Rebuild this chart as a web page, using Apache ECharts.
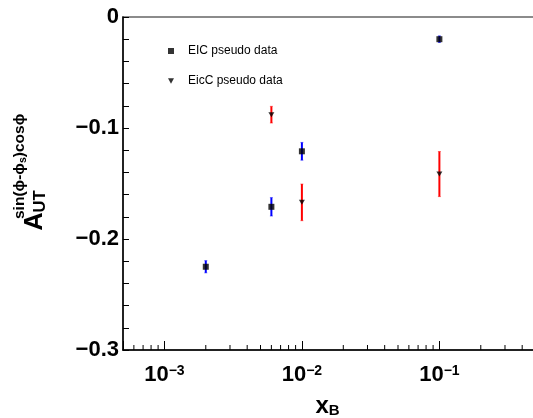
<!DOCTYPE html>
<html><head><meta charset="utf-8">
<script src="https://cdn.jsdelivr.net/npm/echarts@6/dist/echarts.min.js"></script>
<style>html,body{margin:0;padding:0;background:#fff}#c{width:533px;height:418px}</style>
</head><body><div id="c"></div>
<script>
// ---- data ----
const eicX = [0.002, 0.006, 0.01, 0.1];
const eicY = [-0.225, -0.171, -0.121, -0.020];
const eicErr = [0.0055, 0.0083, 0.008, 0.003];

const eiccX = [0.006, 0.01, 0.1];
const eiccY = [-0.088, -0.167, -0.1415];
const eiccErr = [0.0075, 0.0165, 0.0203];

const xMinorTicks = [0.0006, 0.0007, 0.0008, 0.0009,
  0.002, 0.003, 0.004, 0.005, 0.006, 0.007, 0.008, 0.009,
  0.02, 0.03, 0.04, 0.05, 0.06, 0.07, 0.08, 0.09,
  0.2, 0.3, 0.4];
const yTickLabels = ['\u22120.3', '\u22120.2', '\u22120.1', '0'];
const seriesNames = ['EIC pseudo data', 'EicC pseudo data'];

const FONT = '"Liberation Sans", Arial, Helvetica, sans-serif';
const TRI = 'path://M0,0L10,0L5,9Z';

function errItem(color) {
  return function (params, api) {
    const x = api.value(0), y = api.value(1), e = api.value(2);
    const p1 = api.coord([x, y + e]);
    const p2 = api.coord([x, y - e]);
    return {
      type: 'group',
      children: [
        { type: 'line', shape: { x1: p1[0], y1: p1[1], x2: p2[0], y2: p2[1] },
          style: { stroke: color, lineWidth: 2 } },
        { type: 'line', shape: { x1: p1[0] - 1.5, y1: p1[1], x2: p1[0] + 1.5, y2: p1[1] },
          style: { stroke: color, lineWidth: 1, opacity: 0.5 } },
        { type: 'line', shape: { x1: p2[0] - 1.5, y1: p2[1], x2: p2[0] + 1.5, y2: p2[1] },
          style: { stroke: color, lineWidth: 1, opacity: 0.5 } }
      ]
    };
  };
}

const chart = echarts.init(document.getElementById('c'), null, { renderer: 'canvas' });
chart.setOption({
  animation: false,
  backgroundColor: '#fff',
  grid: { left: 123, top: 17, width: 412.5, height: 333, containLabel: false, outerBoundsMode: 'none',
          show: true, borderColor: '#666', borderWidth: 1.5, backgroundColor: 'transparent' },
  legend: {
    data: [{ name: seriesNames[0], icon: 'rect' }, { name: seriesNames[1], icon: TRI }],
    orient: 'vertical', left: 168, top: 44, padding: 0,
    itemWidth: 6, itemHeight: 6, itemGap: 16,
    textStyle: { fontFamily: FONT, fontSize: 12, color: '#000', lineHeight: 14, padding: [0, 0, 0, 9] }
  },
  xAxis: {
    type: 'log', logBase: 10, min: 0.0005, max: 0.5,
    axisLine: { onZero: false, lineStyle: { color: '#000', width: 1.5 } },
    axisTick: { show: true, inside: true, length: 9, lineStyle: { color: '#000', width: 1 } },
    splitLine: { show: false },
    axisLabel: {
      margin: 14,
      formatter: function (v) {
        const l = Math.log10(v), e = Math.round(l);
        if (Math.abs(l - e) > 1e-6) return '';
        return '{b|10}{s|' + (e < 0 ? '\u2212' + (-e) : e) + '}';
      },
      rich: {
        b: { fontFamily: FONT, fontWeight: 'bold', fontSize: 22, lineHeight: 22, color: '#000', verticalAlign: 'bottom' },
        s: { fontFamily: FONT, fontWeight: 'bold', fontSize: 14, lineHeight: 14, color: '#000', verticalAlign: 'top', padding: [0, 0, 11, 0] }
      }
    }
  },
  yAxis: {
    type: 'value', min: -0.3, max: 0, interval: 0.1,
    axisLine: { onZero: false, lineStyle: { color: '#000', width: 1.5 } },
    axisTick: { inside: true, length: 6, lineStyle: { color: '#000' } },
    minorTick: { show: true, splitNumber: 5, length: 6, lineStyle: { color: '#000' } },
    splitLine: { show: false },
    axisLabel: {
      margin: 4, color: '#000', fontFamily: FONT, fontWeight: 'bold', fontSize: 22,
      formatter: function (v) {
        const i = Math.round((v + 0.3) / 0.1);
        return yTickLabels[i];
      }
    }
  },
  series: [
    { type: 'custom', name: 'eicErr', renderItem: errItem('#0000ff'), z: 1, silent: true,
      encode: { x: 0, y: 1 }, data: eicX.map((x, i) => [x, eicY[i], eicErr[i]]) },
    { type: 'custom', name: 'eiccErr', renderItem: errItem('#ff0000'), z: 1, silent: true,
      encode: { x: 0, y: 1 }, data: eiccX.map((x, i) => [x, eiccY[i], eiccErr[i]]) },
    { type: 'scatter', name: seriesNames[0], symbol: 'rect', symbolSize: 6, z: 3,
      itemStyle: { color: '#000' }, data: eicX.map((x, i) => [x, eicY[i]]) },
    { type: 'scatter', name: seriesNames[1], symbol: TRI, symbolSize: [6, 5], z: 3,
      itemStyle: { color: '#000' }, data: eiccX.map((x, i) => [x, eiccY[i]]) },
    { type: 'custom', name: 'minorTicks', silent: true, z: 2, encode: { x: 0, y: 1 },
      clip: false,
      renderItem: function (params, api) {
        const p = api.coord([api.value(0), api.value(1)]);
        return { type: 'line', shape: { x1: p[0], y1: p[1], x2: p[0], y2: p[1] - 5 },
          style: { stroke: '#000', lineWidth: 1 } };
      },
      data: xMinorTicks.map(v => [v, -0.3]) }
  ],
  graphic: [
    { type: 'text', x: 35, y: 230.5, rotation: Math.PI / 2,
      style: { text: 'A', font: 'bold 25px ' + FONT, fill: '#000', align: 'left', verticalAlign: 'middle',
               textAlign: 'left', textVerticalAlign: 'middle' } },
    { type: 'text', x: 40.5, y: 212.5, rotation: Math.PI / 2,
      style: { text: 'UT', font: 'bold 16.5px ' + FONT, fill: '#000', align: 'left', verticalAlign: 'middle',
               textAlign: 'left', textVerticalAlign: 'middle' } },
    { type: 'text', x: 19.5, y: 219, rotation: Math.PI / 2,
      style: { text: '{m|sin(\u03d5-\u03d5}{s|s}{m|)cos\u03d5}', fill: '#000', align: 'left', verticalAlign: 'middle',
               textAlign: 'left', textVerticalAlign: 'middle',
               rich: {
                 m: { font: 'bold 15.5px ' + FONT, fill: '#000', lineHeight: 19 },
                 s: { font: 'bold 10.5px ' + FONT, fill: '#000', lineHeight: 10, verticalAlign: 'bottom' }
               } } },
    { type: 'text', x: 327.5, y: 406, 
      style: { text: '{x|x}{b|B}', fill: '#000', align: 'center', verticalAlign: 'middle',
               textAlign: 'center', textVerticalAlign: 'middle',
               rich: {
                 x: { font: 'bold 24px ' + FONT, fill: '#000', lineHeight: 24 },
                 b: { font: 'bold 15px ' + FONT, fill: '#000', lineHeight: 15, verticalAlign: 'bottom' }
               } } }
  ]
});
</script>
</body></html>
